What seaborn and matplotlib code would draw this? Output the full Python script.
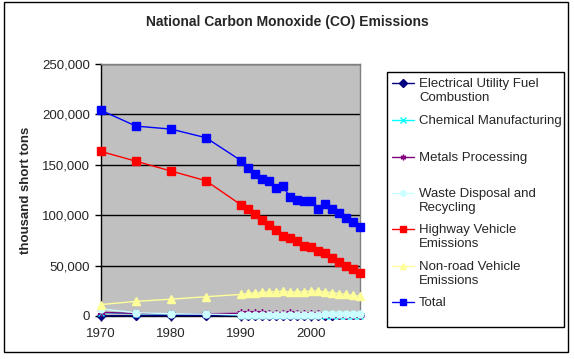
import numpy as np
import pandas as pd
import matplotlib
matplotlib.use("Agg")
import matplotlib.pyplot as plt
from matplotlib.lines import Line2D
from matplotlib.patches import Rectangle
from matplotlib.ticker import FuncFormatter
import seaborn as sns

# --- data (thousand short tons) ---
years = [1970, 1975, 1980, 1985, 1990, 1991, 1992, 1993, 1994, 1995, 1996,
         1997, 1998, 1999, 2000, 2001, 2002, 2003, 2004, 2005, 2006, 2007]

electrical = [237, 276, 322, 291, 363, 349, 350, 363, 370, 372, 376,
              385, 410, 409, 439, 446, 449, 481, 535, 618, 620, 639]
chemical = [3397, 2204, 2151, 1845, 1183, 1125, 1096, 1071, 1085, 1223, 1147,
            1138, 1229, 1177, 1158, 1139, 400, 410, 420, 400, 390, 380]
metals = [3644, 2496, 2246, 2223, 2640, 2571, 2496, 2536, 2475, 2380, 2432,
          2482, 1495, 1520, 1562, 1496, 1155, 1175, 1196, 1200, 1200, 1200]
waste = [7059, 3230, 2300, 1941, 1079, 1116, 1132, 1141, 1246, 1185, 1202,
         1232, 1099, 1125, 1172, 1192, 1520, 1540, 1560, 1580, 1580, 1580]
highway = [163231, 153555, 143827, 134187, 110255, 105800, 100900, 94900, 90000,
           85000, 79700, 77100, 74400, 69400, 68800, 64500, 62500, 57900, 53300,
           49300, 46300, 42300]
nonroad = [11371, 14489, 16685, 19113, 21447, 22500, 22800, 23500, 23800, 24100,
           24800, 23800, 23800, 24100, 24800, 24800, 23800, 23200, 22100, 21500,
           20500, 19500]
total = [204043, 188398, 185407, 176844, 154186, 147128, 140895, 135902, 133558,
         126777, 128858, 117910, 115380, 114541, 114467, 106262, 110964, 106000,
         101800, 97200, 93300, 88600]

series_names = ["Electrical Utility Fuel Combustion", "Chemical Manufacturing",
                "Metals Processing", "Waste Disposal and Recycling",
                "Highway Vehicle Emissions", "Non-road Vehicle Emissions", "Total"]
legend_labels = ["Electrical Utility Fuel\nCombustion", "Chemical Manufacturing",
                 "Metals Processing", "Waste Disposal and\nRecycling",
                 "Highway Vehicle\nEmissions", "Non-road Vehicle\nEmissions", "Total"]
series_vals = [electrical, chemical, metals, waste, highway, nonroad, total]

colors = ["#000080", "#00FFFF", "#800080", "#CCFFFF", "#FF0000", "#FFFF99", "#0000FF"]
markers = ["D", "x", (6, 2, 0), "o", "s", "^", "s"]
msizes = [4, 5, 6, 5, 5.5, 6, 5.5]

df = pd.concat([pd.DataFrame({"year": years, "value": v, "series": n})
                for n, v in zip(series_names, series_vals)], ignore_index=True)

sns.set_theme(style="white")
plt.rcParams["font.family"] = ["Liberation Sans", "DejaVu Sans"]

W, H = 574, 359
fig = plt.figure(figsize=(W / 100, H / 100), dpi=100)
ax = fig.add_axes([101 / W, 1 - 316 / H, 259 / W, 252 / H])
ax.set_facecolor("#C0C0C0")

for name, col, mk, ms in zip(series_names, colors, markers, msizes):
    sub = df[df["series"] == name]
    sns.lineplot(data=sub, x="year", y="value", color=col, marker=mk,
                 markersize=ms, markeredgecolor=col, markerfacecolor=col,
                 markeredgewidth=1, linewidth=1, ax=ax, clip_on=False,
                 zorder=3)

ax.set_xlim(1970, 2007)
ax.set_ylim(0, 250000)
ax.set_xticks([1970, 1980, 1990, 2000])
ax.set_yticks(range(0, 250001, 50000))
ax.yaxis.set_major_formatter(FuncFormatter(lambda v, _: f"{int(v):,}"))
ax.set_xlabel("")
ax.set_ylabel("")
ax.yaxis.grid(True, color="black", linewidth=1)
ax.set_axisbelow(True)
ax.tick_params(axis="y", direction="out", length=4, width=1, color="black",
               pad=4, labelsize=9.5, left=True)
ax.tick_params(axis="x", direction="inout", length=7, width=1, color="black",
               pad=5, labelsize=9.5, bottom=True)
for s in ["left", "bottom"]:
    ax.spines[s].set_color("black")
    ax.spines[s].set_linewidth(1)
for s in ["top", "right"]:
    ax.spines[s].set_color("#808080")
    ax.spines[s].set_linewidth(1)

fig.text(287 / W, 1 - 22 / H, "National Carbon Monoxide (CO) Emissions",
         ha="center", va="center", fontsize=10, fontweight="bold")
fig.text(26 / W, 1 - 190 / H, "thousand short tons", rotation=90,
         ha="center", va="center", fontsize=9.5, fontweight="bold")

# legend box
fig.patches.append(Rectangle((387 / W, 1 - 327 / H), 177 / W, 255 / H,
                             transform=fig.transFigure, fill=False,
                             edgecolor="black", linewidth=1))
entry_y = [83, 120, 157, 193, 229, 266, 302]
for lab, col, mk, ey in zip(legend_labels, colors, markers, entry_y):
    fy = 1 - ey / H
    fig.lines.append(Line2D([392 / W, 414 / W], [fy, fy], transform=fig.transFigure,
                            color=col, linewidth=1))
    fig.lines.append(Line2D([403 / W], [fy], transform=fig.transFigure,
                            color=col, marker=mk, markersize=4,
                            markeredgecolor=col, markerfacecolor=col))
    fig.text(419 / W, 1 - (ey - 5) / H, lab, ha="left", va="top", fontsize=9.5,
             linespacing=1.2)

# outer chart border
fig.patches.append(Rectangle((4 / W, 1 - 352 / H), 564 / W, 350 / H,
                             transform=fig.transFigure, fill=False,
                             edgecolor="black", linewidth=1))

fig.savefig("out.png", dpi=100)
